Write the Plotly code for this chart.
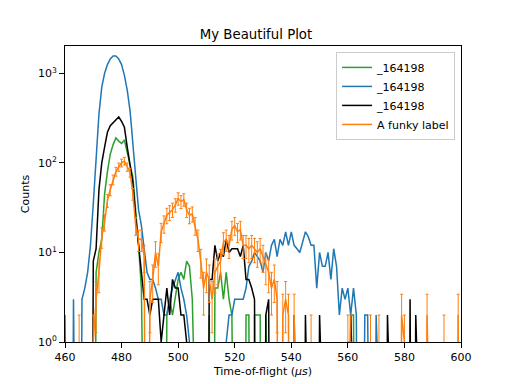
import numpy as np
import plotly.graph_objects as go

# Time-of-flight bin positions (microseconds)
tof = list(range(460, 601))

# Counts per bin (0 = empty bin)
green_counts = [
    0, 0, 0, 0, 0, 0, 0, 0, 0, 0,            # 460-469
    0, 6, 10, 14, 45, 80, 125, 160, 190, 175,  # 470-479
    165, 180, 135, 95, 70, 30, 12, 4, 0, 0,    # 480-489
    0, 1, 0, 0, 0, 0, 2, 3, 2, 3,              # 490-499
    5, 6, 5, 8, 7, 3, 0, 0, 0, 0,              # 500-509
    0, 2, 0, 4, 4, 6, 3, 6, 3, 2,              # 510-519
    0, 0, 1, 0, 2, 2, 0, 2, 2, 2,              # 520-529
    0, 2, 0, 0, 0, 0, 0, 0, 0, 0,              # 530-539
    0, 0, 0, 0, 0, 0, 0, 0, 0, 0,              # 540-549
    0, 0, 0, 0, 0, 0, 0, 0, 0, 0,              # 550-559
    0, 2, 2, 0, 0, 0, 0, 0, 0, 0,              # 560-569
    0, 0, 0, 0, 0, 0, 0, 0, 0, 0,              # 570-579
    0, 0, 0, 0, 0, 0, 0, 0, 0, 0,              # 580-589
    0, 0, 0, 0, 0, 0, 0, 0, 0, 0,              # 590-599
    0,                                         # 600
]

blue_counts = [
    2, 0, 0, 3, 0, 0, 3, 4, 6, 12,                          # 460-469
    35, 110, 350, 700, 1000, 1250, 1450, 1560, 1560, 1450,  # 470-479
    1250, 950, 650, 380, 160, 80, 30, 20, 10, 6,            # 480-489
    5, 5, 4, 3, 3, 2, 2, 3, 4, 5,                           # 490-499
    6, 4, 3, 2, 1, 0, 0, 0, 0, 0,                           # 500-509
    0, 0, 0, 0, 0, 0, 0, 1, 2, 2,                           # 510-519
    3, 3, 3, 3, 4, 7, 8, 10, 9, 8,                          # 520-529
    6, 10, 8, 12, 14, 9, 14, 12, 17, 12,                    # 530-539
    17, 12, 11, 10, 13, 17, 15, 12, 12, 4,                  # 540-549
    10, 7, 7, 10, 5, 11, 7, 2, 4, 3,                        # 550-559
    4, 2, 4, 2, 0, 0, 2, 2, 0, 0,                           # 560-569
    2, 0, 0, 0, 0, 0, 0, 0, 0, 0,                           # 570-579
    0, 0, 0, 0, 0, 0, 0, 0, 0, 0,                           # 580-589
    0, 0, 0, 0, 0, 0, 0, 0, 0, 0,                           # 590-599
    0,                                                      # 600
]

black_counts = [
    0, 0, 0, 0, 0, 0, 0, 0, 0, 0,              # 460-469
    8, 11, 50, 100, 150, 220, 260, 280, 300, 325,  # 470-479
    290, 250, 150, 100, 60, 25, 12, 7, 3, 3,   # 480-489
    2, 3, 3, 3, 1, 2, 4, 2, 5, 4,              # 490-499
    4, 2, 2, 1, 0, 0, 0, 1, 0, 0,              # 500-509
    0, 5, 5, 12, 8, 10, 9, 14, 10, 11,         # 510-519
    11, 11, 9, 12, 5, 5, 4, 3, 0, 0,           # 520-529
    0, 2, 3, 0, 0, 0, 0, 0, 0, 0,              # 530-539
    0, 2, 0, 0, 0, 2, 0, 0, 0, 0,              # 540-549
    2, 0, 0, 0, 0, 0, 0, 0, 0, 0,              # 550-559
    0, 2, 0, 0, 0, 0, 0, 0, 0, 0,              # 560-569
    0, 0, 0, 0, 2, 0, 0, 0, 0, 0,              # 570-579
    0, 0, 3, 0, 2, 0, 0, 0, 0, 0,              # 580-589
    0, 0, 0, 0, 0, 0, 0, 0, 0, 0,              # 590-599
    0,                                         # 600
]

orange_counts = [
    0, 0, 0, 0, 0, 1, 0, 0, 0, 0,              # 460-469
    1, 3, 6, 15, 22, 38, 50, 65, 80, 90,       # 470-479
    100, 105, 90, 78, 45, 20, 14, 14, 9, 0,    # 480-489
    3, 5, 10, 7, 17, 21, 26, 28, 30, 34,       # 490-499
    40, 37, 39, 30, 26, 27, 20, 14, 8, 4,      # 500-509
    6, 5, 3, 6, 7, 8, 13, 14, 12, 18,          # 510-519
    20, 17, 18, 12, 12, 11, 12, 11, 10, 11,    # 520-529
    9, 7, 6, 4, 5, 3, 0, 2, 3, 2,              # 530-539
    0, 2, 0, 0, 0, 0, 0, 1, 0, 0,              # 540-549
    0, 0, 0, 0, 0, 0, 0, 0, 0, 0,              # 550-559
    1, 1, 0, 0, 0, 0, 0, 0, 1, 0,              # 560-569
    0, 1, 0, 0, 0, 0, 0, 0, 0, 2,              # 570-579
    1, 0, 0, 0, 0, 0, 0, 0, 2, 0,              # 580-589
    0, 0, 0, 0, 1, 0, 0, 0, 0, 2,              # 590-599
    0,                                         # 600
]

series_labels = ["_164198", "_164198", "_164198", "A funky label"]
x_ticks = [460, 480, 500, 520, 540, 560, 580, 600]
y_ticks = [1, 10, 100, 1000]
y_tick_text = ["10<sup>0</sup>", "10<sup>1</sup>", "10<sup>2</sup>", "10<sup>3</sup>"]

FLOOR = 1e-6  # empty bins drawn below the log axis (like matplotlib's clipping)


def disp(counts):
    a = np.asarray(counts, dtype=float)
    return np.where(a > 0, a, FLOOR)


orange_err = np.sqrt(np.asarray(orange_counts, dtype=float))

fig = go.Figure()
line_w = 1.5
fig.add_trace(go.Scatter(x=tof, y=disp(green_counts), mode="lines", name=series_labels[0],
                         line=dict(color="#2ca02c", width=line_w)))
fig.add_trace(go.Scatter(x=tof, y=disp(blue_counts), mode="lines", name=series_labels[1],
                         line=dict(color="#1f77b4", width=line_w)))
fig.add_trace(go.Scatter(x=tof, y=disp(black_counts), mode="lines", name=series_labels[2],
                         line=dict(color="black", width=line_w)))
fig.add_trace(go.Scatter(x=tof, y=disp(orange_counts), mode="lines", name=series_labels[3],
                         line=dict(color="#ff7f0e", width=line_w),
                         error_y=dict(type="data", array=orange_err, visible=True,
                                      color="#ff7f0e", thickness=1, width=1.5)))

font_family = "DejaVu Sans"
fig.update_layout(
    width=512, height=384,
    margin=dict(l=65, r=51, t=46, b=42),
    paper_bgcolor="white", plot_bgcolor="white",
    font=dict(family=font_family, size=11, color="black"),
    title=dict(text="My Beautiful Plot", x=0.5, xanchor="center",
               y=1 - 34 / 384, yanchor="middle", yref="container",
               font=dict(size=13.3, family=font_family, color="black")),
    showlegend=True,
    legend=dict(x=0.985, y=0.98, xanchor="right", yanchor="top",
                bgcolor="rgba(255,255,255,0.8)", bordercolor="#cccccc", borderwidth=1,
                font=dict(size=11, family=font_family), itemwidth=30,
                tracegroupgap=0),
    xaxis=dict(range=[460, 600], tickvals=x_ticks, ticks="outside", ticklen=5,
               tickwidth=1, tickcolor="black", showline=True, linecolor="black",
               linewidth=1, mirror=True, showgrid=False, zeroline=False,
               automargin=False,
               title=dict(text="Time-of-flight (<i>μs</i>)", standoff=4,
                          font=dict(size=11))),
    yaxis=dict(type="log", range=[0, np.log10(2018)], tickvals=y_ticks,
               ticktext=y_tick_text, ticks="outside", ticklen=5, tickwidth=1,
               tickcolor="black", showline=True, linecolor="black", linewidth=1,
               mirror=True, showgrid=False, zeroline=False, automargin=False,
               title=dict(text="Counts", standoff=6, font=dict(size=11))),
)

fig.write_html("out.html", config={"displayModeBar": False},
               post_script="document.body.style.margin='0';document.body.style.overflow='hidden';")
